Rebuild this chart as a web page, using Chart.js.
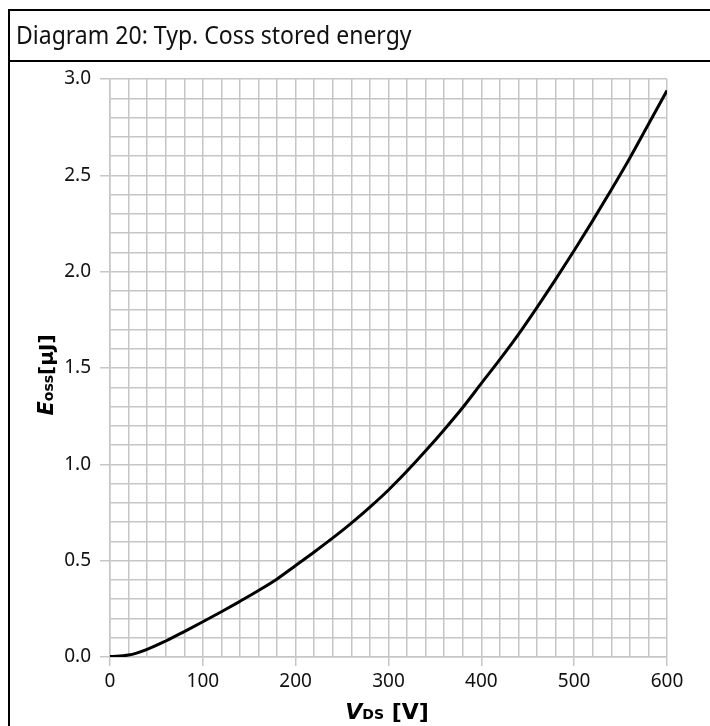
<!DOCTYPE html>
<html>
<head>
<meta charset="utf-8">
<script src="https://cdn.jsdelivr.net/npm/chart.js@4/dist/chart.umd.min.js"></script>
<style>
  html, body { margin: 0; padding: 0; background: #fff; }
  body { width: 710px; height: 726px; position: relative; overflow: hidden; }
  #chart { position: absolute; left: 0; top: 0; }
  .line { position: absolute; background: #000; z-index: 2; }
  #header {
    position: absolute; left: 16px; top: 16px; z-index: 2;
    font-family: "Noto Sans", sans-serif; font-size: 25px; line-height: 36px;
    white-space: nowrap; transform-origin: 0 0; color: #111;
  }
</style>
</head>
<body>
<div class="line" style="left:8px; top:9px; width:702px; height:2px;"></div>
<div class="line" style="left:8px; top:9px; width:2px; height:717px;"></div>
<div class="line" style="left:8px; top:60px; width:702px; height:2px;"></div>
<div id="header">Diagram 20: Typ. Coss stored energy</div>
<canvas id="chart" width="710" height="726"></canvas>
<script>
// V_DS [V]
const vds = [0, 20, 40, 60, 80, 100, 120, 140, 160, 180, 200, 220, 240, 260, 280,
  300, 320, 340, 360, 380, 400, 420, 440, 460, 480, 500, 520, 540, 560, 580, 600];
// E_oss [uJ]
const eoss = [0.003, 0.01, 0.04, 0.083, 0.132, 0.183, 0.235, 0.289, 0.345, 0.405, 0.475,
  0.545, 0.618, 0.695, 0.778, 0.867, 0.965, 1.07, 1.18, 1.295, 1.42, 1.545, 1.675, 1.815,
  1.96, 2.11, 2.265, 2.425, 2.59, 2.765, 2.94];
const xTickLabels = ["0", "100", "200", "300", "400", "500", "600"];
const yTickLabels = ["0.0", "0.5", "1.0", "1.5", "2.0", "2.5", "3.0"];

// squeeze header text to the narrow width of the original
const header = document.getElementById("header");
const targetWidth = 396;
header.style.transform = "scaleX(" + (targetWidth / header.offsetWidth) + ")";

const gridColor = "#c6c6c6";
const isMajor = (v, step) => Math.abs(v / step - Math.round(v / step)) < 1e-6;

// draws a run of [text, font] parts centred on cx, same baseline
const drawParts = (ctx, parts, cx, cy) => {
  let total = 0;
  parts.forEach(([t, f]) => { ctx.font = f; total += ctx.measureText(t).width; });
  let x = cx - total / 2;
  parts.forEach(([t, f]) => {
    ctx.font = f;
    ctx.fillText(t, x, cy);
    x += ctx.measureText(t).width;
  });
};

const axisTitles = {
  id: "axisTitles",
  afterDraw(chart) {
    const ctx = chart.ctx;
    ctx.save();
    ctx.fillStyle = "#000";
    ctx.textBaseline = "alphabetic";
    ctx.textAlign = "left";
    drawParts(ctx, [
      ["V", "italic bold 22px 'DejaVu Sans'"],
      ["DS", "bold 14px 'DejaVu Sans'"],
      [" [V]", "bold 22px 'DejaVu Sans'"],
    ], 387, 719);
    ctx.translate(53, 375);
    ctx.rotate(-Math.PI / 2);
    drawParts(ctx, [
      ["E", "italic bold 21px 'DejaVu Sans'"],
      ["oss", "bold 14px 'DejaVu Sans'"],
      ["[μJ]", "bold 20px 'DejaVu Sans'"],
    ], 0, 0);
    ctx.restore();
  },
};

new Chart(document.getElementById("chart"), {
  type: "line",
  data: {
    datasets: [
      {
        label: "Eoss",
        data: vds.map((v, i) => ({ x: v, y: eoss[i] })),
        borderColor: "#000",
        borderWidth: 3,
        pointRadius: 0,
        cubicInterpolationMode: "monotone",
        fill: false,
      },
    ],
  },
  options: {
    responsive: false,
    animation: false,
    layout: { padding: { left: 0, top: 79, right: 43, bottom: 19 } },
    plugins: { legend: { display: false }, tooltip: { enabled: false } },
    scales: {
      x: {
        type: "linear",
        min: 0,
        max: 600,
        afterFit: (s) => { s.height = 50; },
        grid: {
          color: gridColor,
          lineWidth: 1.5,
          tickLength: 9,
          tickColor: (c) => (c.tick && isMajor(c.tick.value, 100) ? gridColor : "rgba(0,0,0,0)"),
        },
        border: { color: gridColor, width: 1.5 },
        ticks: {
          stepSize: 20,
          autoSkip: false,
          maxRotation: 0,
          padding: 4,
          color: "#111",
          font: { family: "'Noto Sans'", size: 19 },
          callback: (v) => (isMajor(v, 100) ? xTickLabels[Math.round(v / 100)] : ""),
        },
      },
      y: {
        min: 0,
        max: 3,
        afterFit: (s) => { s.width = 110; },
        grid: {
          color: gridColor,
          lineWidth: 1.5,
          tickLength: 10,
          tickColor: (c) => (c.tick && isMajor(c.tick.value, 0.5) ? gridColor : "rgba(0,0,0,0)"),
        },
        border: { color: gridColor, width: 1.5 },
        ticks: {
          stepSize: 0.1,
          autoSkip: false,
          padding: 9,
          color: "#111",
          font: { family: "'Noto Sans'", size: 19 },
          callback: (v) => (isMajor(v, 0.5) ? yTickLabels[Math.round(v / 0.5)] : ""),
        },
      },
    },
  },
  plugins: [axisTitles],
});
</script>
</body>
</html>
